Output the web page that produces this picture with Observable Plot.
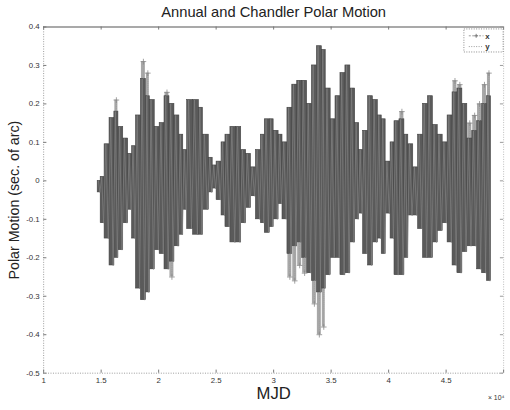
<!DOCTYPE html>
<html><head><meta charset="utf-8">
<script src="https://cdn.jsdelivr.net/npm/d3@7"></script>
<script src="https://cdn.jsdelivr.net/npm/@observablehq/plot@0.6"></script>
<style>html,body{margin:0;padding:0;background:#fff;overflow:hidden;width:510px;height:410px}#chart svg{display:block}</style>
</head><body><div id="chart"></div>
<script>
// Column starts (MJD) of the sampled envelope and the data end
const mjd = [14700,14960,15300,15730,16150,16500,16920,17350,17690,18030,18460,18890,19230,19660,20090,20510,20940,21370,21800,22140,22480,22990,23500,23850,24360,24700,25040,25470,25810,26240,26750,27180,27610,28030,28460,28890,29230,29660,30000,30430,30770,31200,31620,32050,32480,32910,33330,33760,34190,34530,34960,35380,35810,36240,36670,37090,37440,37780,38210,38630,39060,39400,39740,40170,40510,40940,41370,41710,42140,42560,42990,43420,43850,44270,44700,45130,45560,45980,46410,46840,47270,47690,48120,48550];
const mjdEnd = 48900;
// y series (dense) high / low per column
const yHigh = [0.00,0.01,0.095,0.163,0.18,0.14,0.11,0.07,0.09,0.17,0.265,0.22,0.21,0.14,0.15,0.22,0.20,0.17,0.12,0.08,0.21,0.21,0.19,0.12,0.06,0.04,0.05,0.10,0.12,0.14,0.14,0.08,0.07,0.035,0.08,0.12,0.16,0.16,0.13,0.12,0.10,0.19,0.25,0.26,0.26,0.20,0.30,0.35,0.34,0.24,0.16,0.22,0.28,0.30,0.24,0.15,0.08,0.13,0.22,0.21,0.17,0.16,0.05,0.10,0.155,0.16,0.12,0.095,0.035,0.12,0.20,0.22,0.145,0.12,0.10,0.17,0.23,0.24,0.20,0.11,0.13,0.155,0.20,0.22];
const yLow = [-0.03,-0.11,-0.15,-0.22,-0.20,-0.18,-0.11,-0.075,-0.15,-0.28,-0.31,-0.29,-0.23,-0.18,-0.19,-0.23,-0.21,-0.17,-0.14,-0.075,-0.125,-0.14,-0.14,-0.075,-0.03,-0.02,-0.05,-0.09,-0.12,-0.16,-0.16,-0.11,-0.07,-0.04,-0.10,-0.11,-0.135,-0.12,-0.10,-0.06,-0.10,-0.19,-0.17,-0.16,-0.20,-0.24,-0.26,-0.29,-0.28,-0.245,-0.20,-0.20,-0.245,-0.24,-0.16,-0.10,-0.085,-0.19,-0.22,-0.16,-0.15,-0.19,-0.085,-0.15,-0.245,-0.245,-0.20,-0.09,-0.09,-0.125,-0.20,-0.20,-0.16,-0.13,-0.11,-0.16,-0.22,-0.24,-0.185,-0.17,-0.17,-0.23,-0.24,-0.26];
// x series (with sparse outer "+" points) high / low per column
const xHigh = [0.00,0.01,0.095,0.163,0.21,0.14,0.11,0.07,0.09,0.17,0.31,0.28,0.21,0.14,0.15,0.23,0.20,0.17,0.12,0.08,0.21,0.21,0.19,0.12,0.06,0.04,0.05,0.10,0.12,0.14,0.14,0.08,0.07,0.035,0.08,0.12,0.16,0.16,0.13,0.12,0.10,0.19,0.25,0.26,0.26,0.20,0.30,0.35,0.34,0.24,0.16,0.22,0.28,0.30,0.24,0.15,0.08,0.13,0.22,0.21,0.17,0.16,0.05,0.10,0.155,0.18,0.12,0.095,0.035,0.12,0.20,0.22,0.145,0.12,0.10,0.17,0.26,0.25,0.20,0.15,0.17,0.20,0.25,0.28];
const xLow = [-0.03,-0.11,-0.15,-0.22,-0.20,-0.18,-0.11,-0.075,-0.15,-0.28,-0.31,-0.29,-0.23,-0.18,-0.19,-0.23,-0.25,-0.17,-0.14,-0.075,-0.125,-0.14,-0.14,-0.075,-0.03,-0.02,-0.05,-0.09,-0.12,-0.16,-0.16,-0.11,-0.07,-0.04,-0.10,-0.11,-0.135,-0.12,-0.10,-0.06,-0.10,-0.25,-0.26,-0.22,-0.24,-0.24,-0.32,-0.40,-0.38,-0.245,-0.20,-0.20,-0.245,-0.24,-0.16,-0.10,-0.085,-0.19,-0.22,-0.16,-0.15,-0.19,-0.085,-0.15,-0.245,-0.245,-0.20,-0.09,-0.09,-0.125,-0.20,-0.20,-0.16,-0.13,-0.11,-0.16,-0.22,-0.24,-0.185,-0.17,-0.17,-0.23,-0.24,-0.26];

const xTicks = [10000,15000,20000,25000,30000,35000,40000,45000,50000];
const xTickLabels = [10000,15000,20000,25000,30000,35000,40000,45000];
const yTicks = [-0.5,-0.4,-0.3,-0.2,-0.1,0,0.1,0.2,0.3,0.4];
const title = "Annual and Chandler Polar Motion";
const xLabel = "MJD";
const yLabel = "Polar Motion (sec. of arc)";
const expLabel = "× 10⁴";

const cols = mjd.map((m, i) => ({
  x1: m, x2: i + 1 < mjd.length ? mjd[i + 1] : mjdEnd,
  yh: yHigh[i], yl: yLow[i], xh: xHigh[i], xl: xLow[i]
}));
// zigzag points across each column (top then bottom)
const zig = (hk, lk) => cols.flatMap(c => {
  const w = c.x2 - c.x1;
  return [{x: c.x1 + w * 0.25, v: c[hk]}, {x: c.x1 + w * 0.75, v: c[lk]}];
});
const zy = zig("yh", "yl");
// outer x points (only where the x series reaches beyond the dense y band)
const outer = cols.flatMap(c => {
  const w = c.x2 - c.x1, pts = [];
  if (c.xh > c.yh) pts.push({x: c.x1 + w * 0.5, v1: c.yh, v2: c.xh});
  if (c.xl < c.yl) pts.push({x: c.x1 + w * 0.5, v1: c.yl, v2: c.xl});
  return pts;
});

const X0 = 10000, X1 = 50000, Y0 = -0.5, Y1 = 0.4;
const font = "'Liberation Sans', Arial, Helvetica, sans-serif";

const chart = Plot.plot({
  width: 520, height: 410,
  marginLeft: 44, marginRight: 7, marginTop: 27, marginBottom: 30,
  x: {domain: [X0, X1]},
  y: {domain: [Y0, Y1]},
  style: {fontFamily: font, background: "#fff", color: "#333"},
  marks: [
    // frame lines
    Plot.ruleY([Y1], {stroke: "#555", strokeWidth: 1.2}),
    Plot.ruleX([X0], {stroke: "#999", strokeDasharray: "1,1.5"}),
    Plot.ruleY([Y0], {stroke: "#999", strokeDasharray: "1,1.5"}),
    Plot.ruleX([X1], {stroke: "#bbb", strokeDasharray: "1,1.5"}),
    // inward ticks
    Plot.ruleY(yTicks, {x1: X0, x2: X0 + 280, stroke: "#777"}),
    Plot.ruleY(yTicks, {x1: X1 - 280, x2: X1, stroke: "#999"}),
    Plot.ruleX(xTicks, {y1: Y0, y2: Y0 + 0.008, stroke: "#777"}),
    Plot.ruleX(xTicks, {y1: Y1, y2: Y1 - 0.008, stroke: "#777"}),
    // data: x series (outer, lighter) and y series (dense, darker)
    Plot.rect(cols, {x1: "x1", x2: "x2", y1: "xl", y2: "xh", fill: "#a8a8a8", insetLeft: 0.5, insetRight: 0.5}),
    Plot.rect(cols, {x1: "x1", x2: "x2", y1: "yl", y2: "yh", fill: "#5a5a5a", stroke: "#444", strokeWidth: 0.6}),
    Plot.line(zy, {x: "x", y: "v", stroke: "#7e7e7e", strokeWidth: 0.8}),
    Plot.ruleX(outer, {x: "x", y1: "v1", y2: "v2", stroke: "#9a9a9a", strokeWidth: 0.8, strokeDasharray: "1,1"}),
    Plot.dot(outer, {x: "x", y: "v2", symbol: "plus", r: 2, stroke: "#888", strokeWidth: 0.8}),
    // axes labels
    Plot.axisY(yTicks, {anchor: "left", tickSize: 0, tickPadding: 4, fontSize: 8, fill: "#333", label: null,
      tickFormat: d => d === 0 ? "0" : d.toFixed(1)}),
    Plot.axisX(xTickLabels, {anchor: "bottom", tickSize: 0, tickPadding: 4, fontSize: 8, fill: "#333", label: null,
      tickFormat: d => String(d / 10000)}),
    // title and axis titles
    Plot.text([title], {frameAnchor: "top", lineAnchor: "middle", dy: -14.5, fontSize: 15, fill: "#222"}),
    Plot.text([xLabel], {frameAnchor: "bottom", lineAnchor: "middle", dy: 21, fontSize: 17, fill: "#222"}),
    Plot.text([yLabel], {frameAnchor: "left", textAnchor: "middle", lineAnchor: "middle", dx: -30, dy: 0, rotate: -90, fontSize: 14.5, fill: "#222"}),
    Plot.text([expLabel], {frameAnchor: "bottom-right", lineAnchor: "middle", dx: -16, dy: 25, fontSize: 7, fill: "#333", textAnchor: "start"})
  ]
});
document.getElementById("chart").appendChild(chart);

// legend box (top-right)
const svg = d3.select(chart);
const lg = svg.append("g").attr("font-family", font);
lg.append("rect").attr("x", 473).attr("y", 29.5).attr("width", 40).attr("height", 23.5)
  .attr("fill", "#fff").attr("stroke", "#888").attr("stroke-dasharray", "1,1.5");
lg.append("line").attr("x1", 478).attr("x2", 493).attr("y1", 36.5).attr("y2", 36.5)
  .attr("stroke", "#999").attr("stroke-dasharray", "2,1.5");
lg.append("path").attr("d", "M485.5,34.5v4M483.5,36.5h4").attr("stroke", "#777");
lg.append("text").attr("x", 497).attr("y", 39.5).attr("font-size", 8).attr("font-weight", "bold").attr("fill", "#333").text("x");
lg.append("line").attr("x1", 478).attr("x2", 493).attr("y1", 47.5).attr("y2", 47.5)
  .attr("stroke", "#999").attr("stroke-dasharray", "1,1.5");
lg.append("text").attr("x", 497).attr("y", 50).attr("font-size", 8).attr("font-weight", "bold").attr("fill", "#333").text("y");
</script></body></html>
